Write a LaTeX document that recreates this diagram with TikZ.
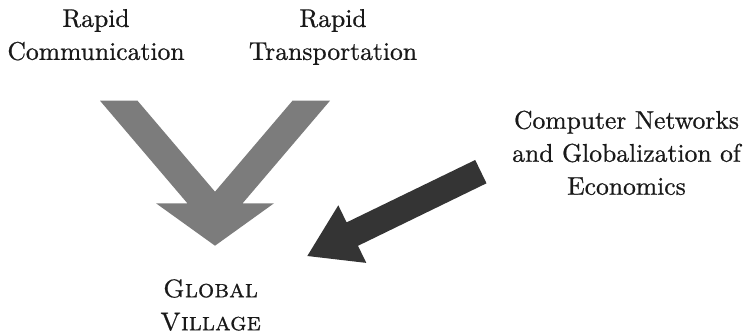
\documentclass[tikz,border=0pt]{standalone}
\usepackage{fontspec}
\newfontfamily\lblfont{lmroman10-regular.otf}[FakeBold=0.7]
\newfontfamily\capsfont{lmromancaps10-regular.otf}[FakeBold=0.7]
\definecolor{vgray}{RGB}{124,124,124}
\definecolor{dgray}{RGB}{52,52,52}
\begin{document}
\begin{tikzpicture}[x=1pt,y=-1pt,
  lbl/.style={font=\lblfont\fontsize{25.6}{33}\selectfont, align=center, inner sep=0pt, anchor=north, text=black!90},
  caps/.style={lbl, font=\capsfont\fontsize{25.6}{33}\selectfont},
  lightarrow/.style={fill=vgray},
  darkarrow/.style={fill=dgray}]
\useasboundingbox (0,0) rectangle (747,334);
% labels
\node[lbl] (comm)  at (96,8.9)    {Rapid\\Communication};
\node[lbl] (trans) at (333,8.9)   {Rapid\\Transportation};
\node[lbl] (econ)  at (626.5,110.5) {Computer Networks\\and Globalization of\\Economics};
\node[caps] (gv)   at (210.5,279) {Global\\Village};
% V-shaped gray arrow
\fill[lightarrow] (100,100.7) -- (137.5,100.7) -- (215,191.7) -- (292.5,100.7) -- (330,100.7)
  -- (242.6,203.3) -- (274,203.3) -- (215,245.7) -- (156,203.3) -- (187.4,203.3) -- cycle;
% dark arrow
\fill[darkarrow] (475.2,160) -- (486.5,183.3) -- (358.0,245.8) -- (366.3,262.9) -- (307.3,256)
  -- (338.3,205.3) -- (346.6,222.4) -- cycle;
\end{tikzpicture}
\end{document}
